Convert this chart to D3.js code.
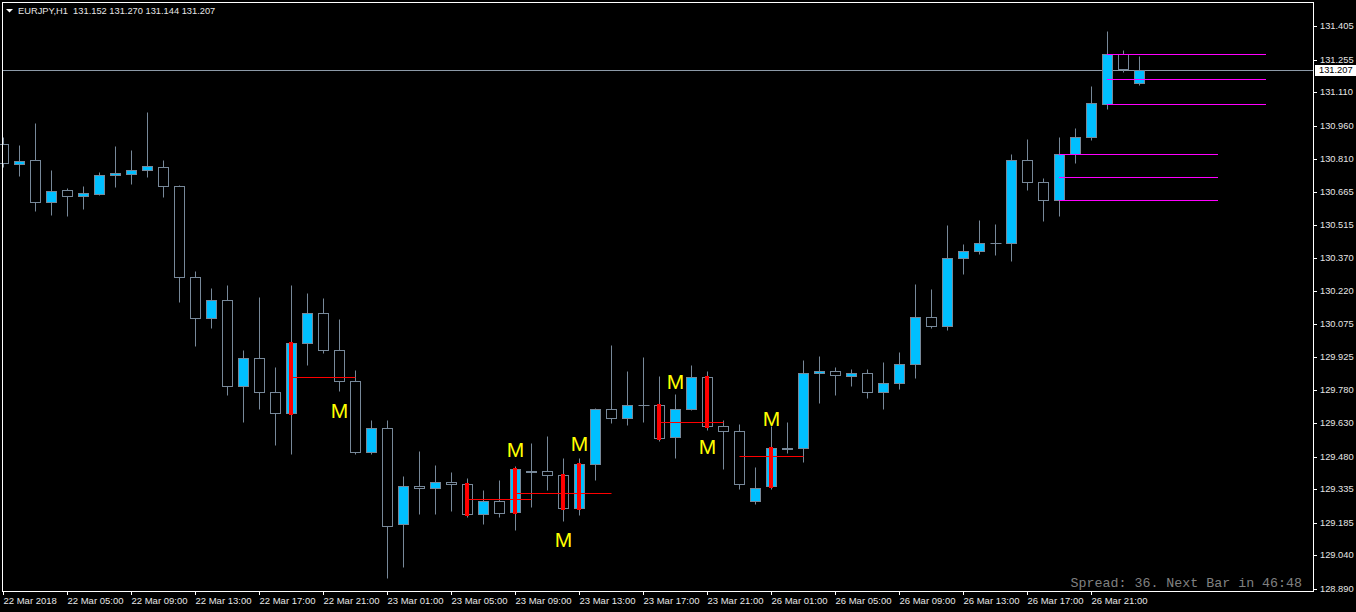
<!DOCTYPE html>
<html><head><meta charset="utf-8">
<script src="https://cdn.jsdelivr.net/npm/d3@7"></script>
<style>html,body{margin:0;padding:0;background:#000;overflow:hidden}</style>
</head><body>
<svg id="chart" width="1356" height="612"></svg>
<script>
// ---------------- data ----------------
const symbolTitle = "EURJPY,H1";
const timeTickBars = [0,4,8,12,16,20,24,28,32,36,40,44,48,52,56,60,64,68];
const timeLabels = ["22 Mar 2018","22 Mar 05:00","22 Mar 09:00","22 Mar 13:00","22 Mar 17:00","22 Mar 21:00",
  "23 Mar 01:00","23 Mar 05:00","23 Mar 09:00","23 Mar 13:00","23 Mar 17:00","23 Mar 21:00",
  "26 Mar 01:00","26 Mar 05:00","26 Mar 09:00","26 Mar 13:00","26 Mar 17:00","26 Mar 21:00"];
const priceTicks = [131.405,131.255,131.110,130.960,130.810,130.665,130.515,130.370,130.220,
  130.075,129.925,129.780,129.630,129.480,129.335,129.185,129.040,128.890];

const opens  = [130.878,130.787,130.805,130.617,130.671,130.644,130.655,130.738,130.742,130.760,
  130.773,130.689,130.282,130.099,130.179,129.797,129.924,129.768,129.674,129.991,
  130.121,129.956,129.821,129.502,129.611,129.181,129.352,129.343,129.370,129.361,
  129.223,129.285,129.236,129.419,129.415,129.401,129.254,129.450,129.692,129.656,
  129.714,129.710,129.567,129.696,129.839,129.616,129.598,129.285,129.348,129.522,
  129.522,129.853,129.866,129.842,129.857,129.768,129.808,129.897,130.107,130.067,
  130.367,130.402,130.436,130.436,130.805,130.706,130.626,130.832,130.908,131.055,
  131.279,131.152];
const highs  = [130.908,130.873,130.971,130.761,130.680,130.690,130.752,130.869,130.851,131.021,
  130.806,130.694,130.310,130.234,130.247,129.957,130.194,129.881,130.247,130.212,
  130.189,130.094,129.867,129.643,129.643,129.394,129.505,129.443,129.412,129.385,
  129.334,129.375,129.438,129.541,129.573,129.477,129.473,129.698,129.979,129.863,
  129.926,129.841,129.763,129.889,129.862,129.644,129.629,129.434,129.620,129.638,
  129.915,129.930,129.881,129.872,129.872,129.903,129.948,130.252,130.230,130.516,
  130.431,130.538,130.520,130.833,130.900,130.726,130.909,130.949,131.137,131.383,
  131.298,131.270];
const lows   = [130.781,130.740,130.584,130.566,130.562,130.593,130.653,130.691,130.705,130.736,
  130.647,130.177,129.981,130.061,129.762,129.641,129.699,129.538,129.498,129.896,
  129.950,129.779,129.497,129.498,128.944,128.993,129.230,129.230,129.243,129.218,
  129.185,129.216,129.158,129.261,129.337,129.196,129.227,129.382,129.636,129.627,
  129.641,129.556,129.480,129.694,129.605,129.431,129.343,129.276,129.343,129.504,
  129.464,129.726,129.762,129.802,129.748,129.699,129.788,129.838,130.061,130.052,
  130.302,130.392,130.387,130.360,130.678,130.539,130.562,130.799,130.901,131.040,
  131.205,131.144];
const closes = [130.791,130.800,130.617,130.666,130.644,130.657,130.738,130.748,130.760,130.778,
  130.689,130.282,130.099,130.183,129.795,129.924,129.768,129.674,129.987,130.121,
  129.956,129.817,129.500,129.607,129.172,129.352,129.343,129.370,129.361,129.223,
  129.285,129.231,129.424,129.413,129.401,129.254,129.450,129.692,129.656,129.714,
  129.711,129.565,129.696,129.839,129.616,129.594,129.361,129.339,129.518,129.516,
  129.857,129.866,129.848,129.857,129.768,129.808,129.897,130.107,130.067,130.367,
  130.402,130.434,130.436,130.805,130.706,130.626,130.832,130.908,131.060,131.279,
  131.214,131.207];

// indicator: signal candles (red body marks)
const signalBars = [18,29,32,35,36,41,44,48];
// indicator: red mid-level lines
const midLineStart = [18,29,32,41,46];
const midLineEnd   = [22,33,38,45,50];
const midLinePrice = [129.835,129.294,129.321,129.638,129.482];
// indicator: magenta zones (top / middle / bottom)
const zoneBars   = [66,69];
const zoneTop    = [130.832,131.279];
const zoneMid    = [130.729,131.167];
const zoneBottom = [130.626,131.055];
// indicator: "M" arrows
const markBars   = [21,32,35,36,42,44,48];
const markPrices = [129.689,129.514,129.113,129.543,129.821,129.530,129.655];

const currentPrice = 131.207;
const headerValues = ["131.152","131.270","131.144","131.207"];
const spreadText = "Spread: 36. Next Bar in 46:48";

// ---------------- drawing ----------------
const W = 1356, H = 612;
const svg = d3.select("#chart");
svg.append("rect").attr("width",W).attr("height",H).attr("fill","#000");

const x = d3.scaleLinear().domain([0,71]).range([3,1139]);
const y = d3.scaleLinear().domain([128.890,131.405]).rangeRound([589,26]);
const X = i => x(i) + 0.5;
const Y = p => y(p) + 0.5;

const GRAY = "#778899", BULL = "#00bfff", FG = "#ffffff";
const bars = d3.range(opens.length).map(i => ({i, o:opens[i], h:highs[i], l:lows[i], c:closes[i]}));

const plot = svg.append("g");
// current price line (behind candles)
plot.append("line").attr("x1",3).attr("x2",1313)
  .attr("y1",Y(currentPrice)).attr("y2",Y(currentPrice))
  .attr("stroke","#8c9aa8").attr("stroke-width",1);

// wicks
plot.selectAll("line.wick").data(bars).join("line").attr("class","wick")
  .attr("x1",d=>X(d.i)).attr("x2",d=>X(d.i))
  .attr("y1",d=>Y(d.h)).attr("y2",d=>Y(d.l)+1)
  .attr("stroke",GRAY).attr("stroke-width",1);

// bodies
bars.forEach(d => {
  const t = Y(Math.max(d.o,d.c)), b = Y(Math.min(d.o,d.c));
  if (b - t < 1) {
    plot.append("line").attr("x1",X(d.i)-5).attr("x2",X(d.i)+6)
      .attr("y1",t).attr("y2",t).attr("stroke",GRAY).attr("stroke-width",1);
  } else {
    plot.append("rect").attr("x",X(d.i)-5).attr("y",t).attr("width",10).attr("height",b-t)
      .attr("fill", d.c > d.o ? BULL : "#000").attr("stroke",GRAY).attr("stroke-width",1);
  }
});

// signal marks
signalBars.forEach(i => {
  const d = bars[i];
  const t = Y(Math.max(d.o,d.c)), b = Y(Math.min(d.o,d.c));
  plot.append("rect").attr("x",X(i)-2.5).attr("y",t-1.5).attr("width",4).attr("height",b-t+3)
    .attr("fill","#ff0000");
});

// mid lines
midLinePrice.forEach((p,k) => {
  plot.append("line").attr("x1",X(midLineStart[k])).attr("x2",X(midLineEnd[k]))
    .attr("y1",Y(p)).attr("y2",Y(p)).attr("stroke","#ff0000").attr("stroke-width",1);
});

// zones
zoneBars.forEach((s,k) => {
  [zoneTop[k], zoneMid[k], zoneBottom[k]].forEach(p => {
    plot.append("line").attr("x1",X(s)-0.5).attr("x2",X(s+10)-1.5)
      .attr("y1",Y(p)).attr("y2",Y(p)).attr("stroke","#ff00ff").attr("stroke-width",1);
  });
});

// M marks
markBars.forEach((b,k) => {
  plot.append("text").attr("x",X(b)).attr("y",y(markPrices[k]))
    .attr("dy","0.36em").attr("text-anchor","middle")
    .attr("font-family","Liberation Sans, Arial, sans-serif").attr("font-size",21)
    .attr("fill","#ffff00")
    .text("M");
});

// frame
svg.append("rect").attr("x",2.5).attr("y",2.5).attr("width",1311).attr("height",589)
  .attr("fill","none").attr("stroke",FG).attr("stroke-width",1);

// price axis
const yAxis = d3.axisRight(y).tickValues(priceTicks).tickSize(4).tickPadding(3)
  .tickFormat(d3.format(".3f"));
const gy = svg.append("g").attr("transform","translate(1313,0)").call(yAxis);
gy.select(".domain").remove();
gy.selectAll(".tick line").attr("stroke",FG);
gy.selectAll(".tick text").attr("fill","#e6e6e6")
  .attr("font-family","Liberation Sans, Arial, sans-serif").attr("font-size",9.3);

// current price label
const cp = svg.append("g").attr("transform",`translate(0,${y(currentPrice)})`);
cp.append("rect").attr("x",1315).attr("y",-5).attr("width",41).attr("height",11).attr("fill","#ffffff");
cp.append("text").attr("x",1319).attr("y",0).attr("dy","0.35em").attr("fill","#000")
  .attr("font-family","Liberation Sans, Arial, sans-serif").attr("font-size",9.3)
  .text(d3.format(".3f")(currentPrice));

// time axis
const xAxis = d3.axisBottom(x).tickValues(timeTickBars).tickSize(4).tickPadding(2)
  .tickFormat((d,k) => timeLabels[k]);
const gx = svg.append("g").attr("transform","translate(0,591)").call(xAxis);
gx.select(".domain").remove();
gx.selectAll(".tick line").attr("stroke",FG);
gx.selectAll(".tick text").attr("fill","#e6e6e6").attr("text-anchor","start").attr("x",0)
  .attr("font-family","Liberation Sans, Arial, sans-serif").attr("font-size",9.5);

// header
svg.append("path").attr("d","M6,9 L13,9 L9.5,12.5 Z").attr("fill","#ffffff");
svg.append("text").attr("x",18).attr("y",14).attr("fill","#e6e6e6")
  .attr("font-family","Liberation Sans, Arial, sans-serif").attr("font-size",9.3)
  .attr("xml:space","preserve")
  .text(symbolTitle + "  " + headerValues.join(" "));

// spread text
svg.append("text").attr("x",1302).attr("y",587).attr("text-anchor","end")
  .attr("fill","#808080").attr("font-family","Liberation Mono, Courier New, monospace")
  .attr("font-size",13.3).text(spreadText);
</script>
</body></html>
